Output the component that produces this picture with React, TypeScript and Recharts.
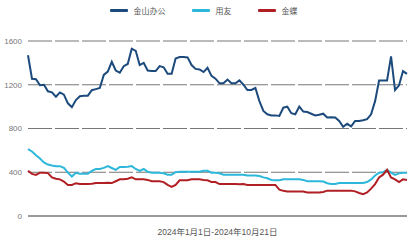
import { LineChart, Line, XAxis, YAxis, CartesianGrid, Legend, ReferenceLine } from 'recharts';

// 2024年1月1日 - 2024年10月21日，股价（元）
const kingsoft = [
  1470, 1255, 1250, 1195, 1200, 1140, 1130, 1090, 1130, 1110,
  1030, 995, 1060, 1095, 1100, 1100, 1150, 1160, 1170, 1290,
  1320, 1410, 1330, 1310, 1370, 1390, 1530, 1510, 1380, 1400,
  1330, 1325, 1325, 1370, 1360, 1300, 1300, 1440, 1453, 1453,
  1450, 1380, 1345, 1340, 1316, 1355, 1281, 1256, 1213, 1213,
  1247, 1213, 1213, 1240, 1200, 1152, 1152, 1170, 1050, 960,
  930, 920, 920, 915, 990, 1000, 940, 930, 1000, 955,
  950, 935, 920, 925, 935, 900, 903, 900, 869, 815,
  843, 820, 869, 869, 875, 886, 930, 1050, 1238, 1238,
  1238, 1460, 1152, 1195, 1325, 1300,
];

const yonyou = [
  611, 590, 555, 525, 490, 470, 462, 456, 456, 440,
  396, 361, 395, 387, 387, 387, 413, 430, 430, 440,
  456, 439, 422, 448, 448, 450, 456, 430, 413, 430,
  404, 396, 396, 396, 390, 378, 378, 400, 404, 404,
  404, 404, 404, 404, 413, 413, 396, 396, 390, 378,
  378, 378, 378, 378, 378, 370, 370, 370, 365, 353,
  345, 330, 327, 327, 335, 335, 335, 335, 335, 330,
  318, 318, 318, 318, 315, 300, 292, 292, 301, 301,
  301, 301, 301, 301, 301, 310, 335, 370, 396, 400,
  422, 396, 375, 390, 396, 396,
];

const kingdee = [
  413, 385, 375, 396, 396, 392, 353, 340, 335, 315,
  284, 284, 300, 292, 292, 292, 295, 301, 301, 301,
  305, 301, 318, 335, 335, 340, 353, 335, 335, 335,
  330, 318, 318, 318, 310, 284, 267, 284, 327, 327,
  327, 335, 335, 335, 330, 327, 310, 310, 292, 292,
  292, 292, 292, 290, 292, 284, 284, 284, 284, 284,
  284, 284, 284, 241, 230, 224, 224, 224, 224, 224,
  215, 215, 215, 215, 220, 232, 232, 232, 232, 232,
  232, 232, 225, 210, 200, 215, 250, 292, 353, 378,
  422, 353, 335, 310, 335, 330,
];

const yTicks = [0, 400, 800, 1200, 1600];

const series = [
  { key: 'kingsoft', name: '金山办公', color: '#1c4a7c' },
  { key: 'yonyou', name: '用友', color: '#2db7db' },
  { key: 'kingdee', name: '金蝶', color: '#b01f24' },
];

const data = kingsoft.map((v, i) => ({
  day: i,
  kingsoft: v,
  yonyou: yonyou[i],
  kingdee: kingdee[i],
}));

const font = '"Liberation Sans", "Noto Sans CJK SC", sans-serif';

const LegendRow = () => (
  <div style={{ display: 'flex', justifyContent: 'center', gap: 26, fontFamily: font, fontSize: 8, color: '#555' }}>
    {series.map((s) => (
      <div key={s.key} style={{ display: 'flex', alignItems: 'center' }}>
        <span style={{ display: 'inline-block', width: 18, height: 3, background: s.color, marginRight: 6, borderRadius: 1 }} />
        {s.name}
      </div>
    ))}
  </div>
);

export default function App() {
  return (
    <div style={{ position: 'fixed', left: 0, top: 0, background: '#fff' }}>
      <LineChart width={420} height={240} data={data} margin={{ top: 30, right: 13, left: 0, bottom: 0 }}>
        <CartesianGrid vertical={false} stroke="#777" strokeDasharray="24 3" />
        <XAxis
          dataKey="day"
          tick={false}
          axisLine={false}
          tickLine={false}
          height={24}
          label={{ value: '2024年1月1日-2024年10月21日', position: 'insideBottom', offset: 5, fontSize: 8.5, fill: '#555', fontFamily: font }}
        />
        <YAxis
          domain={[0, 1600]}
          ticks={yTicks}
          width={28}
          axisLine={false}
          tickLine={false}
          tickSize={6}
          tickMargin={0}
          tick={{ fontSize: 8, fill: '#777', fontFamily: font }}
        />
        <ReferenceLine y={0} stroke="#999" strokeWidth={2} />
        <Legend verticalAlign="top" content={<LegendRow />} wrapperStyle={{ top: 5 }} />
        {series.map((s) => (
          <Line
            key={s.key}
            type="linear"
            dataKey={s.key}
            name={s.name}
            stroke={s.color}
            strokeWidth={2}
            dot={false}
            isAnimationActive={false}
          />
        ))}
      </LineChart>
    </div>
  );
}
